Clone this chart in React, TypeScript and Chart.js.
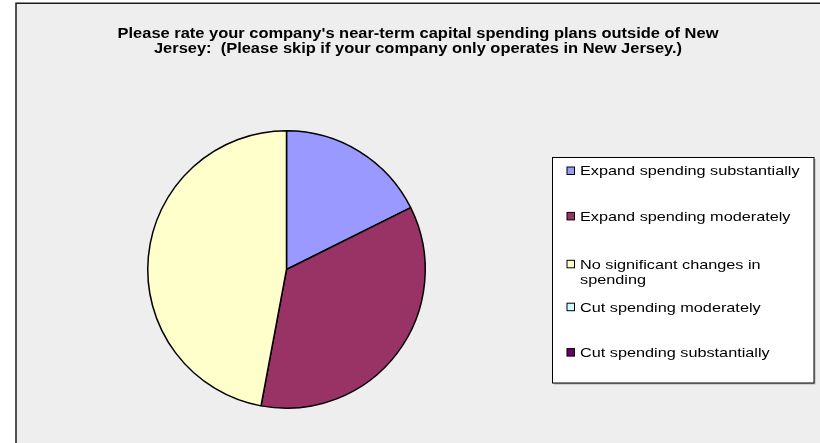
import React, { useEffect, useRef } from "react";
import { Chart, registerables } from "chart.js";

Chart.register(...registerables);

const titleLines: string[] = [
  "Please rate your company's near-term capital spending plans outside of New",
  "Jersey:  (Please skip if your company only operates in New Jersey.)",
];

const categories: string[][] = [
  ["Expand spending substantially"],
  ["Expand spending moderately"],
  ["No significant changes in", "spending"],
  ["Cut spending moderately"],
  ["Cut spending substantially"],
];

const responses: number[] = [3, 6, 8, 0, 0];

const sliceColors: string[] = ["#9999FF", "#993366", "#FFFFCC", "#CCFFFF", "#660066"];

const FONT = "'Liberation Sans', Arial, sans-serif";

function drawStretched(
  ctx: CanvasRenderingContext2D,
  text: string,
  x: number,
  y: number,
  sx: number,
  align: "left" | "center"
) {
  ctx.save();
  ctx.translate(x, y);
  ctx.scale(sx, 1);
  ctx.textAlign = align;
  ctx.textBaseline = "alphabetic";
  ctx.fillText(text, 0, 0);
  ctx.restore();
}

const framePlugin = {
  id: "excelFrame",
  beforeDraw(chart: any) {
    const ctx: CanvasRenderingContext2D = chart.ctx;
    const W = chart.width;
    const H = chart.height;
    ctx.save();
    ctx.fillStyle = "#FFFFFF";
    ctx.fillRect(0, 0, W, H);
    ctx.fillStyle = "#EEEEEE";
    ctx.fillRect(16, 3.5, W, H);
    ctx.strokeStyle = "#1a1a1a";
    ctx.lineWidth = 1.5;
    ctx.beginPath();
    ctx.moveTo(16, H + 2);
    ctx.lineTo(16, 3.25);
    ctx.lineTo(W + 2, 3.25);
    ctx.stroke();
    ctx.restore();
  },
  afterDraw(chart: any) {
    const ctx: CanvasRenderingContext2D = chart.ctx;
    ctx.save();
    // title
    ctx.fillStyle = "#000000";
    ctx.font = `bold 14px ${FONT}`;
    drawStretched(ctx, titleLines[0], 418, 37.7, 1.175, "center");
    drawStretched(ctx, titleLines[1], 418, 53.3, 1.175, "center");

    // legend box
    const bx = 552.5, by = 157.5, bw = 261.5, bh = 225.5;
    ctx.fillStyle = "#B0B0B0";
    ctx.fillRect(bx + 1.5, by + 1.5, bw, bh);
    ctx.fillStyle = "#FFFFFF";
    ctx.fillRect(bx, by, bw, bh);
    ctx.strokeStyle = "#000000";
    ctx.lineWidth = 1;
    ctx.strokeRect(bx, by, bw, bh);

    const labels: any[] = chart.data.labels;
    const colors: string[] = chart.data.datasets[0].backgroundColor;
    ctx.font = `13px ${FONT}`;
    const pitch = 45.4;
    const lineH = 15.3;
    labels.forEach((lab: any, i: number) => {
      const lines: string[] = Array.isArray(lab) ? lab : [lab];
      const cy = 170.7 + i * pitch + (lines.length > 1 ? 2.5 : 0);
      ctx.fillStyle = colors[i];
      ctx.fillRect(567, cy - 3.7, 7.5, 7.5);
      ctx.strokeStyle = "#000000";
      ctx.lineWidth = 1;
      ctx.strokeRect(567, cy - 3.7, 7.5, 7.5);
      ctx.fillStyle = "#000000";
      lines.forEach((ln, j) => {
        drawStretched(ctx, ln, 580, cy + 4.6 + j * lineH, 1.25, "left");
      });
    });
    ctx.restore();
  },
};

export default function App() {
  const ref = useRef<HTMLCanvasElement | null>(null);
  useEffect(() => {
    if (!ref.current) return;
    const chart = new Chart(ref.current, {
      type: "pie",
      data: {
        labels: categories,
        datasets: [
          {
            data: responses,
            backgroundColor: sliceColors,
            borderColor: "#000000",
            borderWidth: 1.5,
          },
        ],
      },
      options: {
        responsive: false,
        animation: false,
        layout: { padding: { left: 147, top: 130, right: 394, bottom: 34 } },
        plugins: {
          legend: { display: false },
          title: { display: false },
          tooltip: { enabled: false },
        },
      },
      plugins: [framePlugin],
    });
    return () => chart.destroy();
  }, []);
  return (
    <div style={{ position: "fixed", left: 0, top: 0, width: 820, height: 443 }}>
      <canvas ref={ref} width={820} height={443} style={{ display: "block", width: 820, height: 443 }} />
    </div>
  );
}
